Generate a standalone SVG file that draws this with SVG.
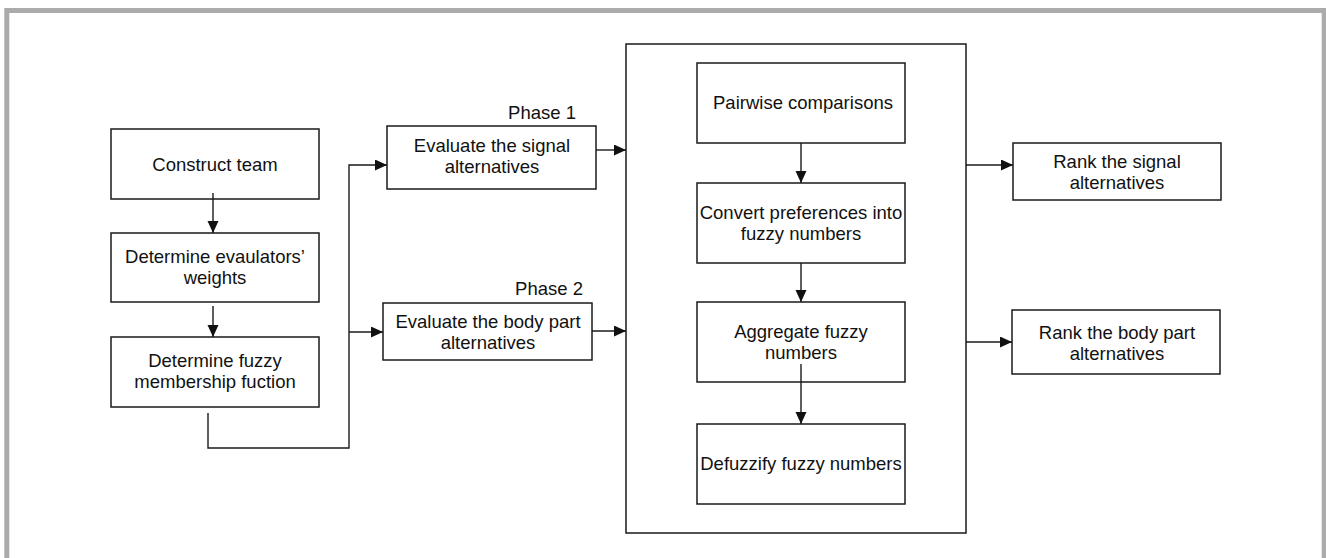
<svg xmlns="http://www.w3.org/2000/svg" width="1326" height="558" viewBox="0 0 1326 558">
<style>
.box{fill:#fff;stroke:#1a1a1a;stroke-width:1.5}
.t{font-family:"Liberation Sans",Arial,sans-serif;font-size:18.5px;fill:#111;text-anchor:middle}
.lbl{font-family:"Liberation Sans",Arial,sans-serif;font-size:18.5px;fill:#111;text-anchor:end}
.c{fill:none;stroke:#1a1a1a;stroke-width:1.4}
</style>
<defs>
<marker id="ah" markerUnits="userSpaceOnUse" markerWidth="13" markerHeight="12" refX="12" refY="5.5" orient="auto">
<path d="M0,0 L12,5.5 L0,11 z" fill="#111"/>
</marker>
</defs>
<rect width="1326" height="558" fill="#fff"/>
<path d="M6.8,558 V10.5 H1324.2 V558" fill="none" stroke="#ababab" stroke-width="5"/>

<g id="container"><rect class="box" x="626" y="44" width="340" height="489"/></g>

<g id="n-construct"><rect class="box" x="111" y="129" width="208" height="70"/><text class="t" x="215" y="170.5">Construct team</text></g>
<g id="n-weights"><rect class="box" x="111" y="233" width="208" height="69"/><text class="t" x="215" y="263">Determine evaulators’</text><text class="t" x="215" y="284">weights</text></g>
<g id="n-fuzzy"><rect class="box" x="111" y="337" width="208" height="70"/><text class="t" x="215" y="367">Determine fuzzy</text><text class="t" x="215" y="388">membership fuction</text></g>

<g id="n-phase1"><text class="lbl" x="576" y="119">Phase 1</text><rect class="box" x="387" y="126" width="209" height="63"/><text class="t" x="492" y="152">Evaluate the signal</text><text class="t" x="492" y="173">alternatives</text></g>
<g id="n-phase2"><text class="lbl" x="583" y="295">Phase 2</text><rect class="box" x="383" y="303" width="209" height="57"/><text class="t" x="488" y="327.5">Evaluate the body part</text><text class="t" x="488" y="348.5">alternatives</text></g>

<g id="n-pairwise"><rect class="box" x="697" y="63" width="208" height="80"/><text class="t" x="803" y="109">Pairwise comparisons</text></g>
<g id="n-convert"><rect class="box" x="697" y="183" width="208" height="80"/><text class="t" x="801" y="219">Convert preferences into</text><text class="t" x="801" y="240">fuzzy numbers</text></g>
<g id="n-aggregate"><rect class="box" x="697" y="302" width="208" height="80"/><text class="t" x="801" y="338">Aggregate fuzzy</text><text class="t" x="801" y="359">numbers</text></g>
<g id="n-defuzzify"><rect class="box" x="697" y="424" width="208" height="80"/><text class="t" x="801" y="470">Defuzzify fuzzy numbers</text></g>

<g id="n-rank-signal"><rect class="box" x="1013" y="143" width="208" height="57"/><text class="t" x="1117" y="168">Rank the signal</text><text class="t" x="1117" y="189">alternatives</text></g>
<g id="n-rank-body"><rect class="box" x="1012" y="310" width="208" height="64"/><text class="t" x="1117" y="338.5">Rank the body part</text><text class="t" x="1117" y="359.5">alternatives</text></g>

<g id="connectors">
<path class="c" d="M213,193 V233" marker-end="url(#ah)"/>
<path class="c" d="M213,306 V337" marker-end="url(#ah)"/>
<path class="c" d="M208,413 V448 H349 V165 H387" marker-end="url(#ah)"/>
<path class="c" d="M349,332 H383" marker-end="url(#ah)"/>
<path class="c" d="M596,150 H626" marker-end="url(#ah)"/>
<path class="c" d="M592,331 H626" marker-end="url(#ah)"/>
<path class="c" d="M801,143 V183" marker-end="url(#ah)"/>
<path class="c" d="M801,263 V302" marker-end="url(#ah)"/>
<path class="c" d="M801,364 V424" marker-end="url(#ah)"/>
<path class="c" d="M966,165 H1013" marker-end="url(#ah)"/>
<path class="c" d="M966,342 H1012" marker-end="url(#ah)"/>
</g>
</svg>
